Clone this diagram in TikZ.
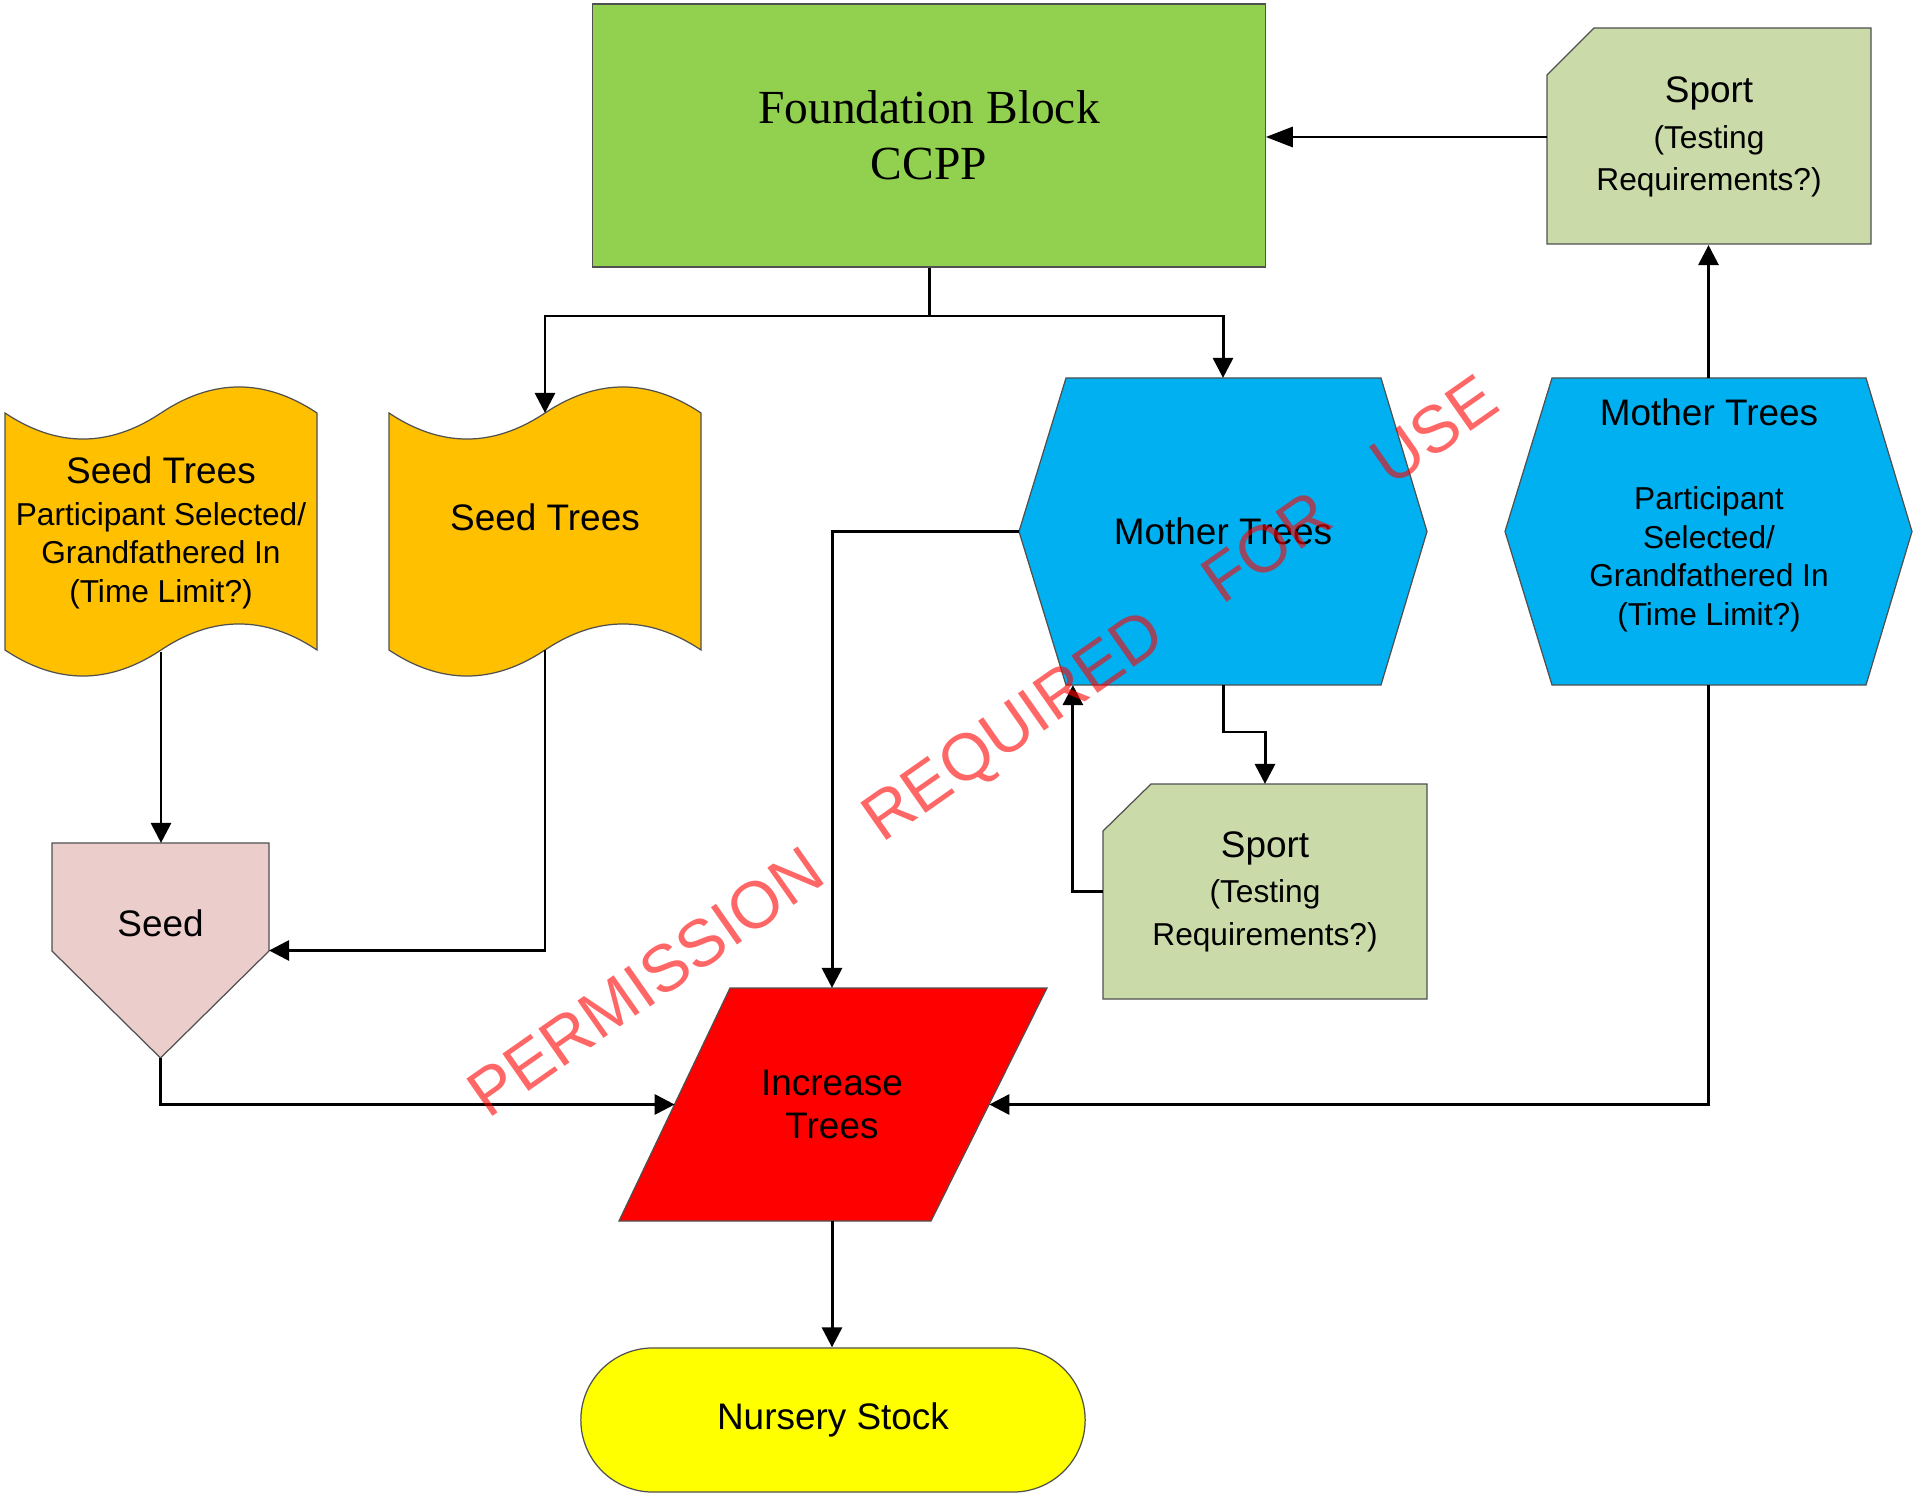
\documentclass[tikz,border=0pt]{standalone}
\usepackage{fontspec}
\setmainfont{Liberation Sans}
\newfontfamily\tnrfont{Liberation Serif}
\usetikzlibrary{arrows.meta,calc}
\definecolor{fbgreen}{HTML}{92D050}
\definecolor{sportgreen}{HTML}{CBDAA9}
\definecolor{treeorange}{HTML}{FFC000}
\definecolor{motherblue}{HTML}{00B0F0}
\definecolor{seedpink}{HTML}{EBCDCC}
\definecolor{incred}{HTML}{FF0000}
\definecolor{nsyellow}{HTML}{FFFF00}
\definecolor{edgegray}{HTML}{505050}
\newcommand\lgtxt{\fontsize{10.5}{12.2}\selectfont}
\newcommand\smtxt{\fontsize{9}{10.95}\selectfont}
\newcommand\sptxt{\fontsize{9}{12.2}\selectfont}
\begin{document}
\begin{tikzpicture}[x=0.01cm,y=-0.01cm,
 shp/.style={draw=edgegray, line width=0.35pt},
 geo/.style={inner sep=0pt, outer sep=0pt, align=center},
 txt/.style={inner sep=0pt, outer sep=0pt, align=center},
 conn/.style={line width=0.85pt, -{Triangle[length=0.2cm,width=0.2cm]}},
]
\useasboundingbox (0,0) rectangle (1914,1494);

% ---- shapes drawn from their outlines
\path[shp, fill=treeorange] (5,413) .. controls (57,447.7) and (109,447.7) .. (161,413) .. controls (213,378.3) and (265,378.3) .. (317,413) -- (317,650) .. controls (265,615.3) and (213,615.3) .. (161,650) .. controls (109,684.7) and (57,684.7) .. (5,650) -- cycle;
\path[shp, fill=treeorange] (389,413) .. controls (441,447.7) and (493,447.7) .. (545,413) .. controls (597,378.3) and (649,378.3) .. (701,413) -- (701,650) .. controls (649,615.3) and (597,615.3) .. (545,650) .. controls (493,684.7) and (441,684.7) .. (389,650) -- cycle;
\path[shp, fill=seedpink] (52,843) -- (269,843) -- (269,951) -- (160.5,1058) -- (52,951) -- cycle;
\path[shp, fill=sportgreen] (1594,28) -- (1871,28) -- (1871,244) -- (1547,244) -- (1547,75) -- cycle;
\path[shp, fill=sportgreen] (1151,784) -- (1427,784) -- (1427,999) -- (1103,999) -- (1103,831) -- cycle;
\path[shp, fill=motherblue] (1019,531.5) -- (1066,378) -- (1381,378) -- (1427,531.5) -- (1381,685) -- (1066,685) -- cycle;
\path[shp, fill=motherblue] (1505,531.5) -- (1552,378) -- (1866,378) -- (1912,531.5) -- (1866,685) -- (1552,685) -- cycle;
\path[shp, fill=incred] (730,988) -- (1047,988) -- (931,1221) -- (619,1221) -- cycle;

% ---- nodes
\node[shp, fill=fbgreen, minimum width=6.72cm, minimum height=2.63cm, inner sep=0pt, align=center,
      font=\tnrfont\fontsize{13.5}{15.9}\selectfont] (fb) at (929,135.5) {Foundation Block\\CCPP};
\node[geo, minimum width=3.24cm, minimum height=2.16cm, font=\sptxt] (s1) at (1709,137) {{\lgtxt Sport}\\[0.8pt](Testing\\Requirements?)};
\node[geo, minimum width=3.24cm, minimum height=2.15cm, font=\sptxt] (s2) at (1265,891.5) {{\lgtxt Sport}\\[0.6pt](Testing\\Requirements?)};
\node[geo, minimum width=3.12cm, minimum height=2.37cm, font=\smtxt] (st1) at (161,533) {{\lgtxt Seed Trees}\\[0.9pt]Participant Selected/\\Grandfathered In\\(Time Limit?)};
\node[geo, minimum width=3.12cm, minimum height=2.37cm] (st2) at (545,531.5) {};
\node[txt, font=\lgtxt] (st2t) at (545,517) {Seed Trees};
\node[geo, minimum width=4.08cm, minimum height=3.07cm, font=\lgtxt] (mt1) at (1223,531.5) {Mother Trees};
\node[geo, minimum width=4.07cm, minimum height=3.07cm] (mt2) at (1708.5,531.5) {};
\node[txt, font=\smtxt] (mt2t) at (1709,515) {{\lgtxt Mother Trees}\\[13.1pt]Participant\\Selected/\\Grandfathered In\\(Time Limit?)};
\node[geo, minimum width=2.17cm, minimum height=2.15cm] (seed) at (160.5,950.5) {};
\node[txt, font=\lgtxt] (seedt) at (160.5,923) {Seed};
\node[geo, minimum width=3.145cm, minimum height=2.33cm, font=\lgtxt] (inc) at (832,1104.5) {Increase\\Trees};
\node[shp, fill=nsyellow, minimum width=5.04cm, minimum height=1.44cm, rounded corners=0.72cm, inner sep=0pt,
      font=\lgtxt] (ns) at (833,1420) {Nursery Stock};

% ---- connectors
\coordinate (j1) at (929,316);
\coordinate (j2) at (1244,732);
\draw[line width=0.85pt, -{Triangle[length=0.27cm,width=0.2cm]}] (s1.west) -- (s1.west -| fb.east);
\draw[conn] (fb.south) -- (j1) -| (st2.north);
\draw[conn] (j1) -| (mt1.north);
\draw[conn] (st1.south) -- (st1.south |- seed.north);
\draw[conn] (st2.south) |- (seed.east);
\draw[conn] (seed.south) |- (inc.west);
\draw[conn] (mt2.south) |- (inc.east);
\draw[conn] (mt1.west) -| (inc.north);
\draw[conn] (inc.south) -- (inc.south |- ns.north);
\draw[conn] (mt1.south) |- (j2) -| (s2.north);
\draw[conn] (s2.west) -| ([xshift=0.54cm]mt1.south west);
\draw[conn] (mt2.north) -- (mt2.north |- s1.south);

% ---- watermark
\node[rotate=35, anchor=base west, inner sep=0pt, text=red, text opacity=0.6,
      font=\fontsize{18.8}{20}\selectfont] (wm) at (488,1120) {PERMISSION\hspace{1em}REQUIRED\hspace{1em}FOR\hspace{1em}USE};
\end{tikzpicture}
\end{document}
